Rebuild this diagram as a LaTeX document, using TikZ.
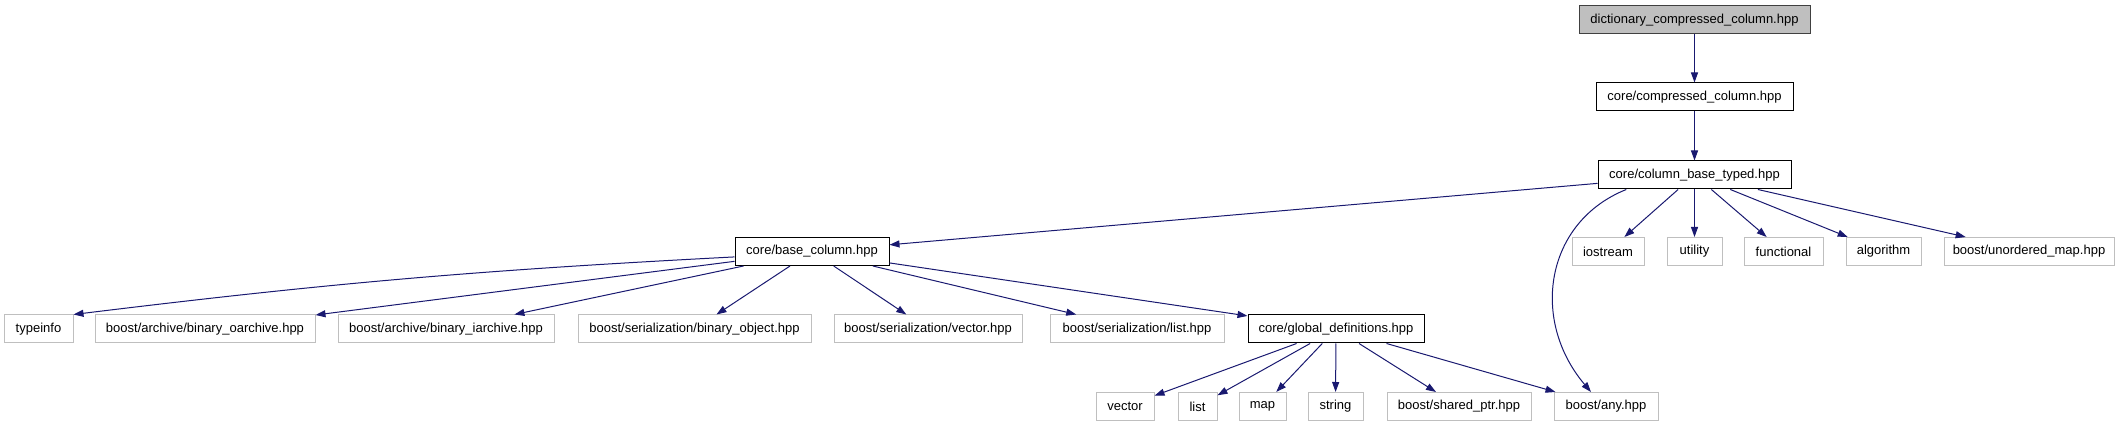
\documentclass[tikz,border=0pt]{standalone}
\usepackage{fontspec}
\setmainfont{Liberation Sans}
\usetikzlibrary{arrows.meta}
\definecolor{edgeblue}{HTML}{191970}
\definecolor{boxgray}{HTML}{BFBFBF}
\definecolor{rimgray}{HTML}{404040}
\tikzset{
  file/.style={draw=boxgray, line width=1pt, minimum height=28pt, inner sep=0pt, font=\fontsize{13}{15}\selectfont},
  localfile/.style={file, draw=black},
  mainfile/.style={file, draw=rimgray, fill=boxgray},
  inc/.style={draw=edgeblue, line width=1pt, -{Triangle[length=10pt,width=7pt]}}
}

\begin{document}
\begin{tikzpicture}[x=1pt, y=-1pt]
\useasboundingbox (0,0) rectangle (2121,427);
\node[mainfile, minimum width=231pt] (dict) at (1694.5,20) {dictionary\_compressed\_column.hpp};
\node[localfile, minimum width=197pt] (compr) at (1694.5,97) {core/compressed\_column.hpp};
\node[localfile, minimum width=193pt] (cbt) at (1694.5,175) {core/column\_base\_typed.hpp};

\node[localfile, minimum width=154pt] (base) at (812,251.5) {core/base\_column.hpp};
\node[file, minimum width=72pt] (iostream) at (1608,251.5) {iostream};
\node[file, minimum width=55pt] (utility) at (1694.5,251.5) {utility};
\node[file, minimum width=79pt] (functional) at (1783.5,251.5) {functional};
\node[file, minimum width=75pt] (algorithm) at (1883.5,251.5) {algorithm};
\node[file, minimum width=170pt] (umap) at (2029,251.5) {boost/unordered\_map.hpp};

\node[file, minimum width=69pt] (typeinfo) at (38.5,329) {typeinfo};
\node[file, minimum width=220pt] (oarch) at (205,329) {boost/archive/binary\_oarchive.hpp};
\node[file, minimum width=216pt] (iarch) at (446,329) {boost/archive/binary\_iarchive.hpp};
\node[file, minimum width=233pt] (binobj) at (694.5,329) {boost/serialization/binary\_object.hpp};
\node[file, minimum width=188pt] (servec) at (928,329) {boost/serialization/vector.hpp};
\node[file, minimum width=174pt] (serlist) at (1137,329) {boost/serialization/list.hpp};
\node[localfile, minimum width=176pt] (globdef) at (1336,329) {core/global\_definitions.hpp};

\node[file, minimum width=58pt] (vector) at (1125,406.5) {vector};
\node[file, minimum width=39pt] (list) at (1197.5,406.5) {list};
\node[file, minimum width=47pt] (map) at (1262.5,406.5) {map};
\node[file, minimum width=55pt] (string) at (1335.5,406.5) {string};
\node[file, minimum width=144pt] (sharedptr) at (1459,406.5) {boost/shared\_ptr.hpp};
\node[file, minimum width=104pt] (any) at (1606,406.5) {boost/any.hpp};

\draw[inc] (dict) -- (compr);
\draw[inc] (compr) -- (cbt);
\draw[inc] (cbt) -- (base);
\draw[inc] (cbt.192) .. controls (1545,222) and (1530,320) .. (any.136);
\foreach \dst in {iostream,utility,functional,algorithm,umap}
  \draw[inc] (cbt) -- (\dst);
\draw[inc] (base.184) to[bend right=2] (typeinfo.north east);
\foreach \dst in {oarch,iarch,binobj,servec,serlist,globdef}
  \draw[inc] (base) -- (\dst);
\foreach \dst in {vector,list,map,string,sharedptr,any}
  \draw[inc] (globdef) -- (\dst);
\end{tikzpicture}
\end{document}
